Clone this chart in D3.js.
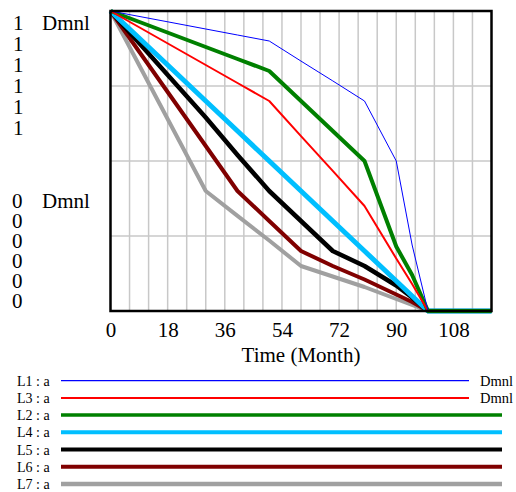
<!DOCTYPE html>
<html><head><meta charset="utf-8">
<script src="https://cdn.jsdelivr.net/npm/d3@7"></script>
<style>
html,body{margin:0;padding:0;background:#fff;}
svg{display:block;}
text{font-family:"Liberation Serif","Times New Roman",serif;fill:#000;}
</style></head>
<body>
<svg id="chart" width="516" height="492"></svg>
<script>
// ---- data ----
const times = [0, 30, 40, 50, 60, 70, 80, 90, 95, 100, 120];
const L1 = [1, 0.94, 0.92, 0.90, 0.833, 0.767, 0.70, 0.50, 0.22, 0, 0];
const L2 = [1, 0.88, 0.84, 0.80, 0.70, 0.60, 0.50, 0.215, 0.12, 0, 0];
const L3 = [1, 0.82, 0.76, 0.70, 0.583, 0.467, 0.35, 0.175, 0.09, 0, 0];
const L4 = [1, 0.70, 0.60, 0.50, 0.40, 0.30, 0.20, 0.10, 0.05, 0, 0];
const L5 = [1, 0.645, 0.52, 0.40, 0.30, 0.20, 0.15, 0.085, 0.045, 0, 0];
const L6 = [1, 0.55, 0.40, 0.30, 0.20, 0.15, 0.105, 0.055, 0.03, 0, 0];
const L7 = [1, 0.40, 0.317, 0.235, 0.15, 0.115, 0.08, 0.04, 0.02, 0, 0];
const seriesNames = ["L1 : a", "L3 : a", "L2 : a", "L4 : a", "L5 : a", "L6 : a", "L7 : a"];
const seriesValues = [L1, L3, L2, L4, L5, L6, L7];
const seriesUnits = ["Dmnl", "Dmnl", "", "", "", "", ""];
const xTicks = [0, 18, 36, 54, 72, 90, 108];
const yTopLabels = ["1", "1", "1", "1", "1", "1"];
const yBottomLabels = ["0", "0", "0", "0", "0", "0"];
const unitLabel = "Dmnl";
const xTitle = "Time (Month)";

// ---- styles ----
const colors = ["#0000ff", "#ff0000", "#008000", "#00bfff", "#000000", "#800000", "#a0a0a0"];
const widths = [1, 2, 4, 5, 4.5, 4, 4];
const legendWidths = [1.3, 2, 3.5, 4, 4, 4, 4.5];

const svg = d3.select("#chart");
const L = 110.5, R = 491.5, T = 11, B = 311;
const x = d3.scaleLinear().domain([0, 120]).range([L, R]);
const y = d3.scaleLinear().domain([0, 1]).range([B, T]);

// grid
const g = svg.append("g");
g.selectAll(".vg").data(d3.range(6, 120, 6)).join("line")
  .attr("x1", d => x(d)).attr("x2", d => x(d)).attr("y1", T).attr("y2", B)
  .attr("stroke", "#c8c8c8").attr("stroke-width", 1.5);
g.selectAll(".hg").data([0.25, 0.5, 0.75]).join("line")
  .attr("y1", d => y(d)).attr("y2", d => y(d)).attr("x1", L).attr("x2", R)
  .attr("stroke", "#c8c8c8").attr("stroke-width", 1.5);

// x axis labels via d3 axis
const xAxis = d3.axisBottom(x).tickValues(xTicks).tickSize(0).tickPadding(0);
const xa = svg.append("g").attr("transform", `translate(0,${B})`).call(xAxis);
xa.select(".domain").remove();
xa.selectAll("text").attr("font-size", 21).attr("dy", 0).attr("y", 26)
  .style("font-family", '"Liberation Serif","Times New Roman",serif');

svg.append("text").attr("x", (x(0) + x(120)) / 2).attr("y", 362)
  .attr("text-anchor", "middle").attr("font-size", 21).text(xTitle);

// y labels (Vensim-style stacked)
yTopLabels.forEach((t, i) => {
  svg.append("text").attr("x", 13).attr("y", 30 + i * 21).attr("font-size", 21).text(t);
});
yBottomLabels.forEach((t, i) => {
  svg.append("text").attr("x", 12).attr("y", 208 + i * 20).attr("font-size", 21).text(t);
});
svg.append("text").attr("x", 42).attr("y", 30).attr("font-size", 21).text(unitLabel);
svg.append("text").attr("x", 42).attr("y", 208).attr("font-size", 21).text(unitLabel);

// series lines (draw L7 first so L1 ends on top)
const line = d3.line().x((d, i) => x(times[i])).y(d => y(d));
const order = d3.range(seriesValues.length).reverse();
order.forEach(k => {
  svg.append("path").datum(seriesValues[k]).attr("d", line)
    .attr("fill", "none").attr("stroke", colors[k]).attr("stroke-width", widths[k])
    .attr("stroke-linejoin", "round");
});

// frame
svg.append("rect").attr("x", L).attr("y", T).attr("width", R - L).attr("height", B - T)
  .attr("fill", "none").attr("stroke", "#000").attr("stroke-width", 2.5);

// legend
const legY0 = 380.7, legDY = 17.2;
seriesNames.forEach((name, i) => {
  const ly = legY0 + i * legDY;
  svg.append("text").attr("x", 17).attr("y", ly + 5).attr("font-size", 14).text(name);
  const x2 = seriesUnits[i] ? 469 : 502;
  svg.append("line").attr("x1", 61).attr("x2", x2).attr("y1", ly).attr("y2", ly)
    .attr("stroke", colors[i]).attr("stroke-width", legendWidths[i]);
  if (seriesUnits[i]) {
    svg.append("text").attr("x", 480).attr("y", ly + 5).attr("font-size", 14.5).text(seriesUnits[i]);
  }
});
</script>
</body></html>
